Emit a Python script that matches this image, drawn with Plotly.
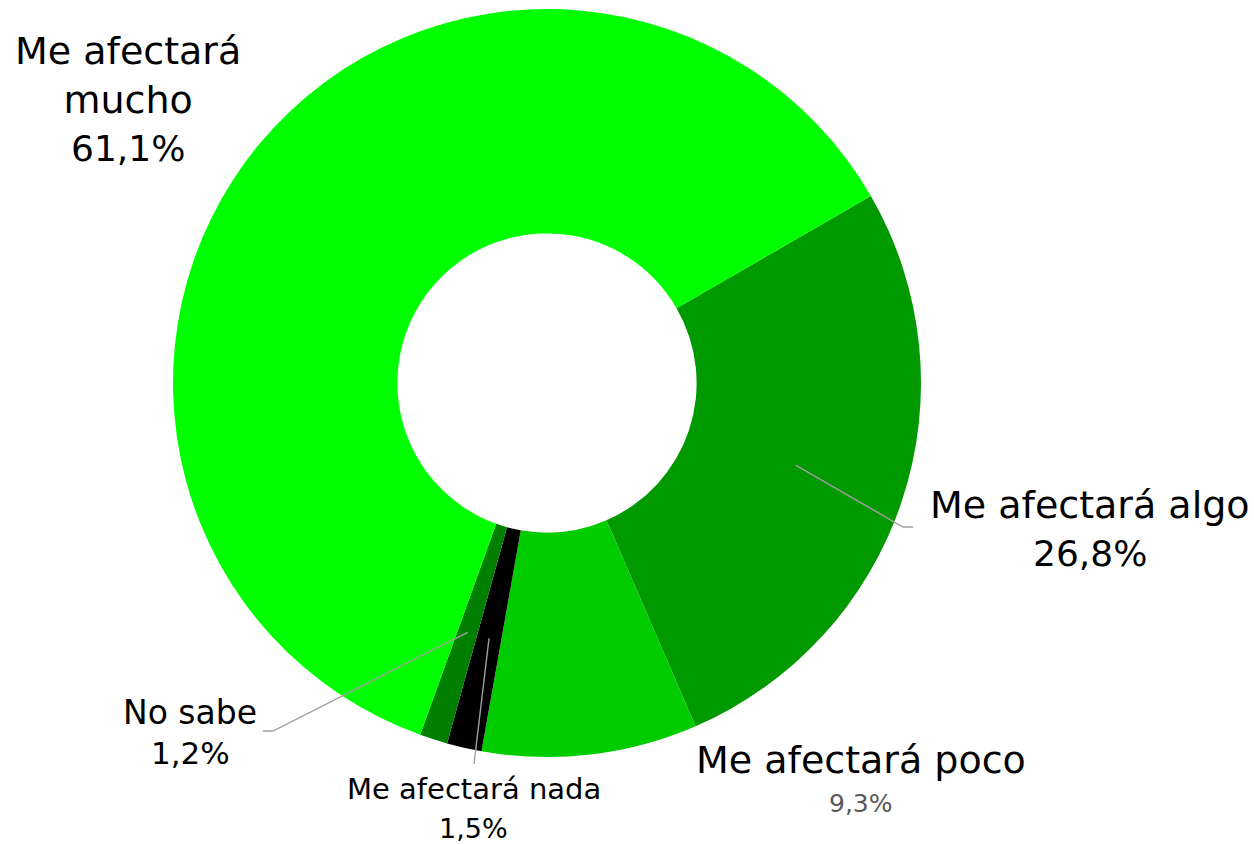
import math
import plotly.graph_objects as go

# data
labels = ['Me afectará algo', 'Me afectará poco', 'Me afectará nada', 'No sabe', 'Me afectará mucho']
values = [26.8, 9.3, 1.5, 1.2, 61.1]
value_text = ['26,8%', '9,3%', '1,5%', '1,2%', '61,1%']
colors = ['#009900', '#00CC00', '#000000', '#007F00', '#00FF00']

W, H = 1254, 844
cx, cy, R = 547, 383, 374  # pie centre / radius in pixels
rotation = 60
font = 'DejaVu Sans'

fig = go.Figure()
fig.add_trace(go.Pie(
    labels=labels, values=values, sort=False, direction='clockwise',
    rotation=rotation, hole=0.4, textinfo='none', hoverinfo='label+percent',
    marker=dict(colors=colors, line=dict(width=0)),
    domain=dict(x=[(cx - R) / W, (cx + R) / W], y=[1 - (cy + R) / H, 1 - (cy - R) / H]),
    showlegend=False,
))


def px(x, y):
    return x / W, 1 - y / H


# mid angle of every slice, clockwise from 12 o'clock
total = sum(values)
mid = []
a = rotation
for v in values:
    span = v / total * 360
    mid.append(a + span / 2)
    a += span

# leader lines: from 0.7 R inside the slice to the label
leaders = {
    0: [(903, 527), (913, 527)],
    2: [(474, 764)],
    3: [(273, 731), (263, 731)],
}
for i, pts in leaders.items():
    ang = math.radians(mid[i])
    sx = cx + 0.7 * R * math.sin(ang)
    sy = cy - 0.7 * R * math.cos(ang)
    d = ''
    for k, (x, y) in enumerate([(sx, sy)] + pts):
        xp, yp = px(x, y)
        d += ('M' if k == 0 else 'L') + f'{xp},{yp} '
    fig.add_shape(type='path', path=d, xref='paper', yref='paper',
                  line=dict(color='#A0A0A0', width=1.4))


def label(text, x, y, size, color='#000000'):
    xp, yp = px(x, y)
    fig.add_annotation(x=xp, y=yp, xref='paper', yref='paper', text=text, showarrow=False,
                       xanchor='center', yanchor='middle', align='center',
                       font=dict(family=font, size=size, color=color))


# names and values
label('Me afectará<br>mucho', 128, 75, 38)
label(value_text[4], 128, 148, 36)
label(labels[0], 1090, 505, 38)
label(value_text[0], 1090, 553, 36)
label(labels[1], 861, 760, 38)
label(value_text[1], 861, 803, 25, '#595959')
label(labels[3], 190, 712, 33)
label(value_text[3], 190, 753, 31)
label(labels[2], 474, 789, 29)
label(value_text[2], 474, 828, 27)

fig.update_layout(width=W, height=H, margin=dict(l=0, r=0, t=0, b=0),
                  paper_bgcolor='white', plot_bgcolor='white')

fig.write_html('out.html', config={'displayModeBar': False},
               post_script="document.body.style.margin='0';")
